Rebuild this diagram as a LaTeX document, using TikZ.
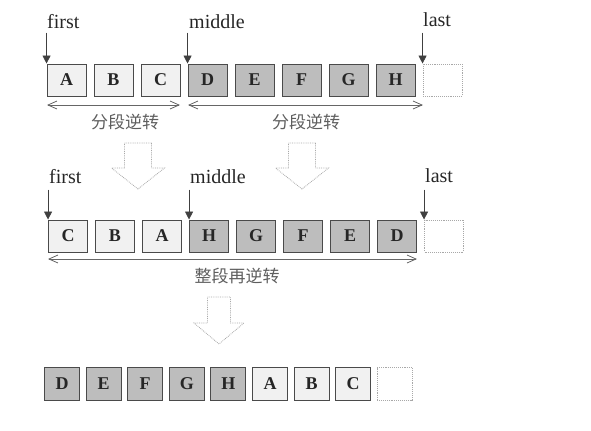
\documentclass[tikz,border=0pt]{standalone}
\usepackage{fontspec}
\setmainfont{Liberation Serif}
\newfontfamily\cjk{Noto Sans CJK SC}
\usetikzlibrary{arrows.meta}
\definecolor{darkbox}{HTML}{BDBDBD}
\definecolor{lightbox}{HTML}{F1F1F1}
\definecolor{boxline}{HTML}{4A4A4A}
\definecolor{cjkgray}{HTML}{5E5E5E}
\definecolor{hollow}{HTML}{A8A8A8}
\tikzset{
  cell/.style={draw=boxline, line width=0.9bp, minimum width=39bp, minimum height=32bp,
    inner sep=0pt, font=\fontsize{18bp}{18bp}\selectfont\bfseries, text=black!85},
  dcell/.style={cell, fill=darkbox},
  lcell/.style={cell, fill=lightbox},
  ecell/.style={cell, draw=hollow, densely dotted, fill=white},
  small/.style={minimum width=35bp, minimum height=33bp},
  ptrlabel/.style={font=\fontsize{20bp}{20bp}\selectfont, inner sep=0pt, anchor=base west, text=black!85},
  cjklabel/.style={font=\cjk\fontsize{17bp}{17bp}\selectfont, inner sep=0pt, text=cjkgray},
  ptr/.style={draw=black!75, line width=0.8bp, -{Triangle[length=8bp,width=8bp]}},
  span/.style={draw=black!60, line width=0.8bp, {Straight Barb[length=9bp,width=8bp]}-{Straight Barb[length=9bp,width=8bp]}},
  hollowarrow/.style={draw=hollow, densely dotted, line width=0.8bp, fill=white}
}
\begin{document}
\begin{tikzpicture}[x=1bp,y=-1bp]
\useasboundingbox (0,0) rectangle (591,430);
% ---------- Row 1 ----------
\node[lcell] (a1) at (66.5,80) {A};
\node[lcell] (b1) at (113.5,80) {B};
\node[lcell] (c1) at (160.5,80) {C};
\node[dcell] (d1) at (207.5,80) {D};
\node[dcell] (e1) at (254.5,80) {E};
\node[dcell] (f1) at (301.5,80) {F};
\node[dcell] (g1) at (348.5,80) {G};
\node[dcell] (h1) at (395.5,80) {H};
\node[ecell] (x1) at (442.5,80) {};
\node[ptrlabel] (first1) at (47,28) {first};
\node[ptrlabel] (middle1) at (189,28) {middle};
\node[ptrlabel] (last1) at (423,26) {last};
\coordinate (pf1) at ([yshift=31bp]a1.north west);
\coordinate (pm1) at ([yshift=31bp]d1.north west);
\coordinate (pl1) at ([yshift=31bp]x1.north west);
\draw[ptr] (pf1) -- (a1.north west);
\draw[ptr] (pm1) -- (d1.north west);
\draw[ptr] (pl1) -- (x1.north west);
\coordinate (s1a) at (47,105);
\coordinate (s1b) at (180,105);
\coordinate (s2a) at (188,105);
\coordinate (s2b) at (423,105);
\draw[span] (s1a) -- (s1b);
\draw[span] (s2a) -- (s2b);
\node[cjklabel] (lab1) at (125,122) {分段逆转};
\node[cjklabel] (lab2) at (306,122) {分段逆转};
% hollow arrows row1 -> row2
\draw[hollowarrow] (124.5,143) -- (151.5,143) -- (151.5,168) -- (164.5,168) -- (138,189) -- (111.5,168) -- (124.5,168) -- cycle;
\draw[hollowarrow] (288.5,143) -- (315.5,143) -- (315.5,168) -- (328.5,168) -- (302,189) -- (275.5,168) -- (288.5,168) -- cycle;
% ---------- Row 2 ----------
\node[lcell] (c2) at (68,236) {C};
\node[lcell] (b2) at (115,236) {B};
\node[lcell] (a2) at (162,236) {A};
\node[dcell] (h2) at (209,236) {H};
\node[dcell] (g2) at (256,236) {G};
\node[dcell] (f2) at (303,236) {F};
\node[dcell] (e2) at (350,236) {E};
\node[dcell] (d2) at (397,236) {D};
\node[ecell] (x2) at (444,236) {};
\node[ptrlabel] (first2) at (49,183) {first};
\node[ptrlabel] (middle2) at (190,183) {middle};
\node[ptrlabel] (last2) at (425,182) {last};
\coordinate (pf2) at ([yshift=30bp]c2.north west);
\coordinate (pm2) at ([yshift=30bp]h2.north west);
\coordinate (pl2) at ([yshift=30bp]x2.north west);
\draw[ptr] (pf2) -- (c2.north west);
\draw[ptr] (pm2) -- (h2.north west);
\draw[ptr] (pl2) -- (x2.north west);
\coordinate (s3a) at (48,259);
\coordinate (s3b) at (417,259);
\draw[span] (s3a) -- (s3b);
\node[cjklabel] (lab3) at (237,276) {整段再逆转};
% hollow arrow row2 -> row3
\draw[hollowarrow] (207.5,297) -- (230.5,297) -- (230.5,323) -- (244,323) -- (219,344) -- (194,323) -- (207.5,323) -- cycle;
% ---------- Row 3 ----------
\node[dcell,small] (d3) at (62,384) {D};
\node[dcell,small] (e3) at (103.6,384) {E};
\node[dcell,small] (f3) at (145.2,384) {F};
\node[dcell,small] (g3) at (186.8,384) {G};
\node[dcell,small] (h3) at (228.4,384) {H};
\node[lcell,small] (a3) at (270,384) {A};
\node[lcell,small] (b3) at (311.6,384) {B};
\node[lcell,small] (c3) at (353.2,384) {C};
\node[ecell,small] (x3) at (394.8,384) {};
\end{tikzpicture}
\end{document}
